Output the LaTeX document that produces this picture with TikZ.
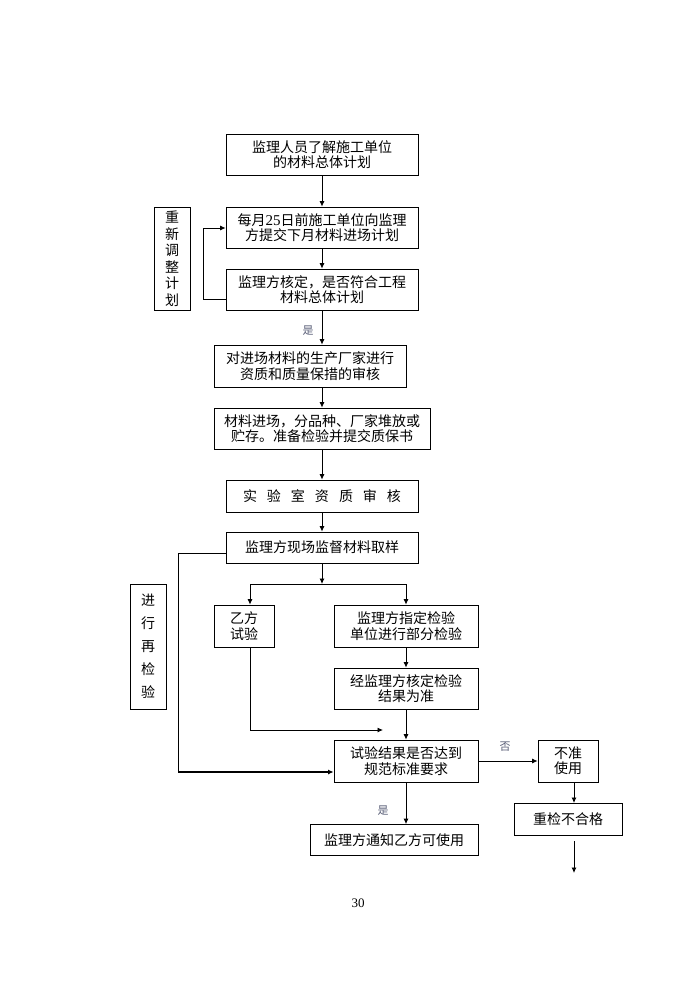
\documentclass[tikz,border=0pt]{standalone}
\usepackage{fontspec}
\setmainfont{Liberation Serif}
\newfontfamily\cjk{Noto Sans CJK SC}
\usetikzlibrary{arrows.meta}
\definecolor{lbl}{RGB}{90,95,120}
\begin{document}
\begin{tikzpicture}[x=1pt,y=-1pt,
  box/.style={draw,line width=0.8pt,inner sep=0pt,align=center,
    font=\cjk\fontsize{14}{15.5}\selectfont},
  arr/.style={line width=0.8pt,-{Latex[length=5.5pt,width=5pt]}},
  ln/.style={line width=0.8pt},
  lab/.style={font=\cjk\fontsize{11}{12}\selectfont,text=lbl,inner sep=0pt}]
\useasboundingbox (0,0) rectangle (696,983);
\fill[white] (0,0) rectangle (696,983);
\node[box,minimum width=192pt,minimum height=41pt] (b1) at (322,154.5) {监理人员了解施工单位\\的材料总体计划};
\node[box,minimum width=192pt,minimum height=41pt] (b2) at (322,227.5) {每月{\rmfamily\fontsize{15}{15.5}\selectfont 25}日前施工单位向监理\\方提交下月材料进场计划};
\node[box,minimum width=192pt,minimum height=41pt] (b3) at (322,289.5) {监理方核定，是否符合工程\\材料总体计划};
\node[box,minimum width=36pt,minimum height=103pt,font=\cjk\fontsize{14}{16.5}\selectfont] (s1) at (172,258.5) {重\\新\\调\\整\\计\\划};
\node[box,minimum width=192pt,minimum height=42pt] (b4) at (310,366) {对进场材料的生产厂家进行\\资质和质量保措的审核};
\node[box,minimum width=216pt,minimum height=41pt] (b5) at (322,428.5) {材料进场，分品种、厂家堆放或\\贮存。准备检验并提交质保书};
\node[box,minimum width=192pt,minimum height=32pt] (b6) at (322,496) {实\hspace{10pt}验\hspace{10pt}室\hspace{10pt}资\hspace{10pt}质\hspace{10pt}审\hspace{10pt}核};
\node[box,minimum width=192pt,minimum height=31pt] (b7) at (322,547.5) {监理方现场监督材料取样};
\node[box,minimum width=60pt,minimum height=42pt] (b8) at (244,626) {乙方\\试验};
\node[box,minimum width=144pt,minimum height=42pt] (b9) at (406,626) {监理方指定检验\\单位进行部分检验};
\node[box,minimum width=144pt,minimum height=41pt] (b10) at (406,688.5) {经监理方核定检验\\结果为准};
\node[box,minimum width=144pt,minimum height=42pt] (b11) at (406,761) {试验结果是否达到\\规范标准要求};
\node[box,minimum width=60pt,minimum height=42pt] (b12) at (568,761) {不准\\使用};
\node[box,minimum width=108pt,minimum height=32pt] (b13) at (568,819) {重检不合格};
\node[box,minimum width=168pt,minimum height=31pt] (b14) at (394,840) {监理方通知乙方可使用};
\node[box,minimum width=36pt,minimum height=125pt,font=\cjk\fontsize{14}{23}\selectfont] (s2) at (148,646.5) {进\\行\\再\\检\\验};
% main chain
\draw[arr] (b1.south) -- (b2.north);
\draw[arr] (b2.south) -- (b3.north);
\draw[arr] (b3.south) -- (b3.south |- b4.north);
\node[lab] (y1) at (308,331) {是};
\draw[arr] (b3.south |- b4.south) -- (b5.north);
\draw[arr] (b5.south) -- (b6.north);
\draw[arr] (b6.south) -- (b7.north);
% loop back
\coordinate (l1) at (203,299);
\coordinate (l2) at (203,228);
\draw[arr] ([yshift=-9.5pt]b3.west) -- (l1) -- (l2) -- (b2.west |- l2);
% split
\coordinate (j) at (322,584);
\coordinate (jl) at (250,584);
\coordinate (jr) at (406,584);
\draw[arr] (b7.south) -- (j);
\draw[ln] (jl) -- (jr);
\draw[arr] (jl) -- (jl |- b8.north);
\draw[arr] (jr) -- (b9.north);
\draw[arr] (b9.south) -- (b10.north);
\draw[arr] (b10.south) -- (b11.north);
% 乙方 path
\coordinate (p1) at (250,730);
\coordinate (p2) at (383,730);
\draw[arr] (jl |- b8.south) -- (p1) -- (p2);
% re-inspection loop
\coordinate (r1) at (178,553);
\coordinate (r2) at (178,772);
\draw[ln] ([yshift=-5.5pt]b7.west) -- (r1) -- (r2);
\draw[line width=1.6pt,-{Latex[length=5.5pt,width=5pt]}] (r2) -- (b11.west |- r2);
% outcomes
\draw[arr] (b11.east) -- (b12.west);
\node[lab] (n1) at (505,747) {否};
\draw[arr] (574,782) -- (574,803);
\draw[arr] (b11.south) -- (b11.south |- b14.north);
\node[lab] (y2) at (383,811) {是};
\coordinate (f1) at (574,841);
\coordinate (f2) at (574,873);
\draw[arr] (f1) -- (f2);
\node[font=\fontsize{13}{15}\selectfont,inner sep=0pt] (pg) at (358,903) {30};
\end{tikzpicture}
\end{document}
